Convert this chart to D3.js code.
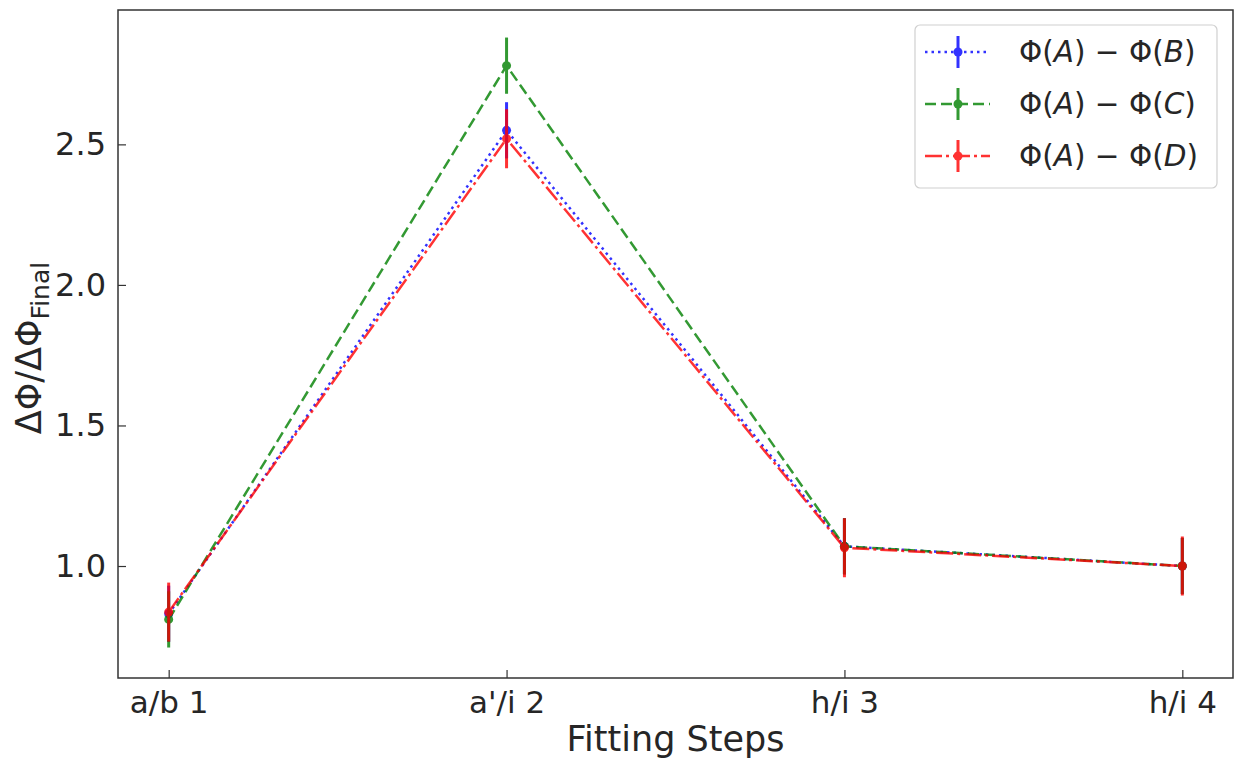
<!DOCTYPE html>
<html>
<head>
<meta charset="utf-8">
<script src="https://cdn.jsdelivr.net/npm/d3@7"></script>
<style>
  html, body { margin: 0; padding: 0; background: #fff; }
  text { font-family: "DejaVu Sans", sans-serif; fill: #262626; }
</style>
</head>
<body>
<svg id="chart" width="1235" height="761"></svg>
<script>
// Fitting steps along the x axis
const steps = ["a/b 1", "a'/i 2", "h/i 3", "h/i 4"];

// Ratio ΔΦ/ΔΦ_Final for each potential difference, with 1σ errors
const valuesAB = [0.83, 2.55, 1.07, 1.00];
const errorsAB = [0.10, 0.10, 0.10, 0.10];
const valuesAC = [0.81, 2.78, 1.07, 1.00];
const errorsAC = [0.10, 0.10, 0.10, 0.10];
const valuesAD = [0.836, 2.52, 1.065, 1.00];
const errorsAD = [0.105, 0.105, 0.105, 0.105];

const yTicks = [1.0, 1.5, 2.0, 2.5];

const series = [
  { name: ["Φ(", "A", ")", " − ", "Φ(", "B", ")"], values: valuesAB, errors: errorsAB, color: "#0000ff", dash: "2.5,4" },
  { name: ["Φ(", "A", ")", " − ", "Φ(", "C", ")"], values: valuesAC, errors: errorsAC, color: "#008000", dash: "11,5" },
  { name: ["Φ(", "A", ")", " − ", "Φ(", "D", ")"], values: valuesAD, errors: errorsAD, color: "#ff0000", dash: "17,4,3,4" }
];
const italicParts = new Set([1, 5]);

const svg = d3.select("#chart");
const plot = { left: 118, right: 1233, top: 10, bottom: 678 };

const x = d3.scaleLinear().domain([-0.15, 3.15]).range([plot.left, plot.right]);
const y = d3.scaleLinear().domain([0.6016, 2.978]).range([plot.bottom, plot.top]);

const frameColor = "#333";

// x axis: ticks point inward
const xAxis = d3.axisBottom(x)
  .tickValues(d3.range(steps.length))
  .tickFormat(i => steps[i])
  .tickSizeInner(-8).tickSizeOuter(0).tickPadding(13);
const gx = svg.append("g").attr("transform", `translate(0,${plot.bottom})`).call(xAxis);
gx.select(".domain").remove();
gx.selectAll(".tick line").attr("stroke", frameColor).attr("stroke-width", 1.2);
gx.selectAll(".tick text").attr("font-size", 31).style("fill", "#262626");

// y axis
const yAxis = d3.axisLeft(y)
  .tickValues(yTicks)
  .tickFormat(d3.format(".1f"))
  .tickSizeInner(-8).tickSizeOuter(0).tickPadding(12);
const gy = svg.append("g").attr("transform", `translate(${plot.left},0)`).call(yAxis);
gy.select(".domain").remove();
gy.selectAll(".tick line").attr("stroke", frameColor).attr("stroke-width", 1.2);
gy.selectAll(".tick text").attr("font-size", 32).style("fill", "#262626");

// Series: connecting line, error bars and point markers
const line = d3.line().x((d, i) => x(i)).y(d => y(d));

series.forEach(s => {
  const g = svg.append("g").attr("opacity", 0.8);
  g.append("path")
    .attr("d", line(s.values))
    .attr("fill", "none")
    .attr("stroke", s.color)
    .attr("stroke-width", 2.5)
    .attr("stroke-dasharray", s.dash);
  g.selectAll("line.err")
    .data(s.values)
    .join("line")
    .attr("class", "err")
    .attr("x1", (d, i) => x(i)).attr("x2", (d, i) => x(i))
    .attr("y1", (d, i) => y(d - s.errors[i]))
    .attr("y2", (d, i) => y(d + s.errors[i]))
    .attr("stroke", s.color)
    .attr("stroke-width", 3);
  g.selectAll("circle")
    .data(s.values)
    .join("circle")
    .attr("cx", (d, i) => x(i))
    .attr("cy", d => y(d))
    .attr("r", 4.5)
    .attr("fill", s.color);
});

// Plot frame
svg.append("rect")
  .attr("x", plot.left).attr("y", plot.top)
  .attr("width", plot.right - plot.left).attr("height", plot.bottom - plot.top)
  .attr("fill", "none").attr("stroke", frameColor).attr("stroke-width", 1.5);

// Axis titles
svg.append("text")
  .attr("x", (plot.left + plot.right) / 2)
  .attr("y", 751)
  .attr("text-anchor", "middle")
  .attr("font-size", 35)
  .text("Fitting Steps");

const yl = svg.append("text")
  .attr("transform", `translate(41,${(plot.top + plot.bottom) / 2 + 4}) rotate(-90)`)
  .attr("text-anchor", "middle")
  .attr("font-size", 35);
yl.append("tspan").text("ΔΦ/ΔΦ");
yl.append("tspan").attr("font-size", 25).attr("dy", 8).text("Final");

// Legend
const legend = svg.append("g");
legend.append("rect")
  .attr("x", 915).attr("y", 25).attr("width", 302).attr("height", 163)
  .attr("rx", 5)
  .attr("fill", "#fff").attr("fill-opacity", 0.8)
  .attr("stroke", "#d0d0d0").attr("stroke-width", 1.2);

const rowY = [52, 104, 156];
series.forEach((s, k) => {
  const row = legend.append("g").attr("opacity", 0.8);
  const cy = rowY[k];
  row.append("line")
    .attr("x1", 925).attr("x2", 990).attr("y1", cy).attr("y2", cy)
    .attr("stroke", s.color).attr("stroke-width", 2.5).attr("stroke-dasharray", s.dash);
  row.append("line")
    .attr("x1", 958).attr("x2", 958).attr("y1", cy - 16).attr("y2", cy + 16)
    .attr("stroke", s.color).attr("stroke-width", 3);
  row.append("circle").attr("cx", 958).attr("cy", cy).attr("r", 4.5).attr("fill", s.color);

  const t = legend.append("text")
    .attr("x", 1019).attr("y", cy + 10)
    .attr("font-size", 29.5)
    .attr("xml:space", "preserve")
    .style("white-space", "pre");
  s.name.forEach((part, j) => {
    t.append("tspan").attr("font-style", italicParts.has(j) ? "italic" : "normal").text(part);
  });
});
</script>
</body>
</html>
